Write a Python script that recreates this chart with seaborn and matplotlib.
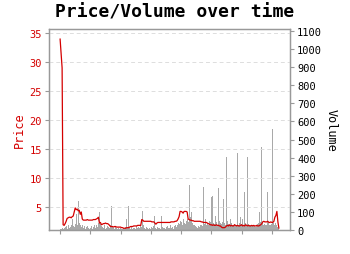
import numpy as np
import pandas as pd
import matplotlib
matplotlib.use("Agg")
import matplotlib.pyplot as plt
import seaborn as sns

# ---- data ----
price = [34.0, 31.5, 29.0,
         2.0, 1.9, 2.2, 2.6,
         3.1, 3.2, 3.3, 3.3, 3.2, 3.4, 3.5,
         4.2, 4.9, 4.6, 4.7, 4.4, 4.5, 3.8, 4.2,
         3.0, 2.8, 2.8, 2.8, 2.8, 2.9, 2.8, 2.8, 2.8, 2.8, 2.8, 2.9, 2.9, 2.9, 3.0, 3.1,
         3.3, 2.3, 2.4, 2.0, 2.1, 2.2, 2.2, 2.3, 2.2, 2.2, 2.1, 1.9,
         1.7, 1.7, 1.7, 1.6, 1.7, 1.7, 1.6, 1.6, 1.6, 1.6,
         1.6, 1.5, 1.5, 1.4, 1.4, 1.4, 1.5, 1.5, 1.5, 1.6,
         1.7, 1.7, 1.7, 1.8, 1.8, 1.8, 1.8, 1.9, 1.9, 1.9, 1.9, 2.9,
         2.8, 2.6, 2.6, 2.6, 2.6, 2.6, 2.6, 2.6, 2.6, 2.5, 2.5, 2.5, 2.3,
         2.1, 2.3, 2.4, 2.4, 2.4, 2.4, 2.4, 2.4, 2.4, 2.4, 2.4, 2.4, 2.4, 2.4, 2.4,
         2.5, 2.5, 2.5, 2.5, 2.6, 2.6, 2.7, 3.0,
         3.4, 4.3, 4.3, 4.2, 4.0, 4.3, 4.3, 4.3, 4.2,
         3.0, 2.9, 2.8, 2.8, 2.7, 2.7,
         2.6, 2.6, 2.6, 2.6, 2.6, 2.6, 2.6, 2.5, 2.5, 2.4, 2.4, 2.4, 2.4, 2.3, 2.2, 2.1, 2.0,
         2.0, 1.9, 2.0, 1.9, 1.9, 2.0, 1.9, 1.9, 1.8, 1.8,
         1.6, 1.5, 1.5, 1.5, 1.6,
         1.8, 1.9, 1.8, 2.0, 1.8, 1.9, 1.8, 1.8, 2.0, 1.9, 1.8, 1.9, 1.8, 1.8, 1.9,
         2.0, 1.8, 1.9, 1.8, 2.0, 1.9, 1.8, 1.9, 1.8, 1.8, 1.9, 1.8, 1.9, 1.8, 1.8,
         1.9, 1.8, 1.8, 1.9, 2.0,
         2.2, 2.5, 2.6, 2.5, 2.5, 2.5, 2.6,
         2.4, 2.4, 2.5, 2.4, 2.4, 2.6,
         3.3, 3.6, 4.3, 2.5, 1.4]

volume = [3, 8, 12, 5, 10, 15, 20, 8, 25, 12,
          18, 30, 60, 22, 15, 35, 90, 28, 159, 40,
          25, 18, 30, 12, 20, 8, 15, 22, 10, 6,
          12, 20, 8, 15, 30, 10, 25, 18, 40, 98,
          35, 20, 15, 10, 25, 8, 12, 20, 15, 10,
          30, 135, 20, 12, 8, 15, 10, 6, 12, 8,
          10, 5, 8, 12, 6, 15, 61, 10, 135, 12,
          8, 15, 6, 10, 12, 8, 20, 10, 15, 12,
          25, 18, 107, 30, 12, 8, 15, 10, 6, 12,
          8, 15, 10, 20, 80, 12, 8, 15, 10, 12,
          8, 80, 15, 10, 12, 8, 15, 20, 10, 25,
          12, 15, 8, 20, 30, 15, 25, 40, 35, 50,
          45, 30, 60, 40, 35, 50, 60, 45, 249, 70,
          100, 40, 30, 25, 20, 15, 12, 20, 15, 25,
          30, 20, 240, 35, 60, 25, 40, 30, 50, 45,
          181, 190, 40, 35, 80, 45, 30, 231, 50, 40,
          35, 45, 172, 40, 30, 402, 50, 35, 25, 60,
          40, 30, 25, 35, 20, 30, 426, 25, 40, 70,
          35, 60, 30, 209, 40, 30, 402, 35, 25, 30,
          20, 25, 30, 20, 15, 25, 35, 40, 98, 45,
          458, 40, 30, 35, 25, 30, 209, 40, 30, 25,
          35, 559, 40, 30, 40, 25, 15, 10]

n = min(len(price), len(volume))
price = price[:n]
volume = volume[:n]
idx = list(range(n))
df = pd.DataFrame({"t": idx, "price": price, "volume": volume})

price_ticks = [5, 10, 15, 20, 25, 30, 35]
volume_ticks = list(range(0, 1200, 100))
time_ticks = list(range(0, 211, 30))

RED = "#d40000"
SPINE = "#999999"

sns.set_style("white")
plt.rcParams["font.family"] = ["DejaVu Sans Mono", "DejaVu Sans"]

fig = plt.figure(figsize=(3.5, 2.55), dpi=100)
ax = fig.add_axes([49 / 350, 24 / 255, 241 / 350, 201 / 255])
ax2 = ax.twinx()

sns.barplot(data=df, x="t", y="volume", native_scale=True, color="#8c8c8c",
            width=1.0, alpha=0.75, ax=ax2, linewidth=0, saturation=1)
sns.lineplot(data=df, x="t", y="price", color=RED, linewidth=0.9, ax=ax)

ax.set_zorder(ax2.get_zorder() + 1)
ax.patch.set_visible(False)

ax.set_xlim(-11, n + 10)
ax.set_ylim(1.1, 35.7)
ax2.set_ylim(0, 1111)

ax.set_yticks(price_ticks)
ax.set_yticklabels([str(v) for v in price_ticks])
ax2.set_yticks(volume_ticks)
ax2.set_yticklabels([str(v) for v in volume_ticks])
ax.set_xticks(time_ticks)
ax.set_xticklabels([])
ax2.set_xticks(time_ticks)

ax.grid(axis="y", color="#dddddd", linestyle=(0, (4, 3)), linewidth=0.7)
ax.grid(axis="x", visible=False)
ax2.grid(False)

for a in (ax, ax2):
    for s in a.spines.values():
        s.set_color(SPINE)
        s.set_linewidth(0.9)

ax.tick_params(axis="y", colors=SPINE, labelcolor=RED, labelsize=7.5,
               length=3, width=0.8, direction="out", left=True, pad=2)
ax.tick_params(axis="x", colors=SPINE, length=3, width=0.8, bottom=True,
               direction="out")
ax2.tick_params(axis="y", colors=SPINE, labelcolor="black", labelsize=7.5,
                length=3, width=0.8, direction="out", right=True, pad=2)

ax.set_xlabel("")
ax.set_ylabel("Price", color=RED, fontsize=8.5, labelpad=3)
ax2.set_ylabel("Volume", color="black", fontsize=8.5, rotation=270, labelpad=11)

fig.suptitle("Price/Volume over time", fontsize=13, fontweight="bold",
             color="black", x=0.5, y=0.985)

fig.savefig("out.png", dpi=100)
